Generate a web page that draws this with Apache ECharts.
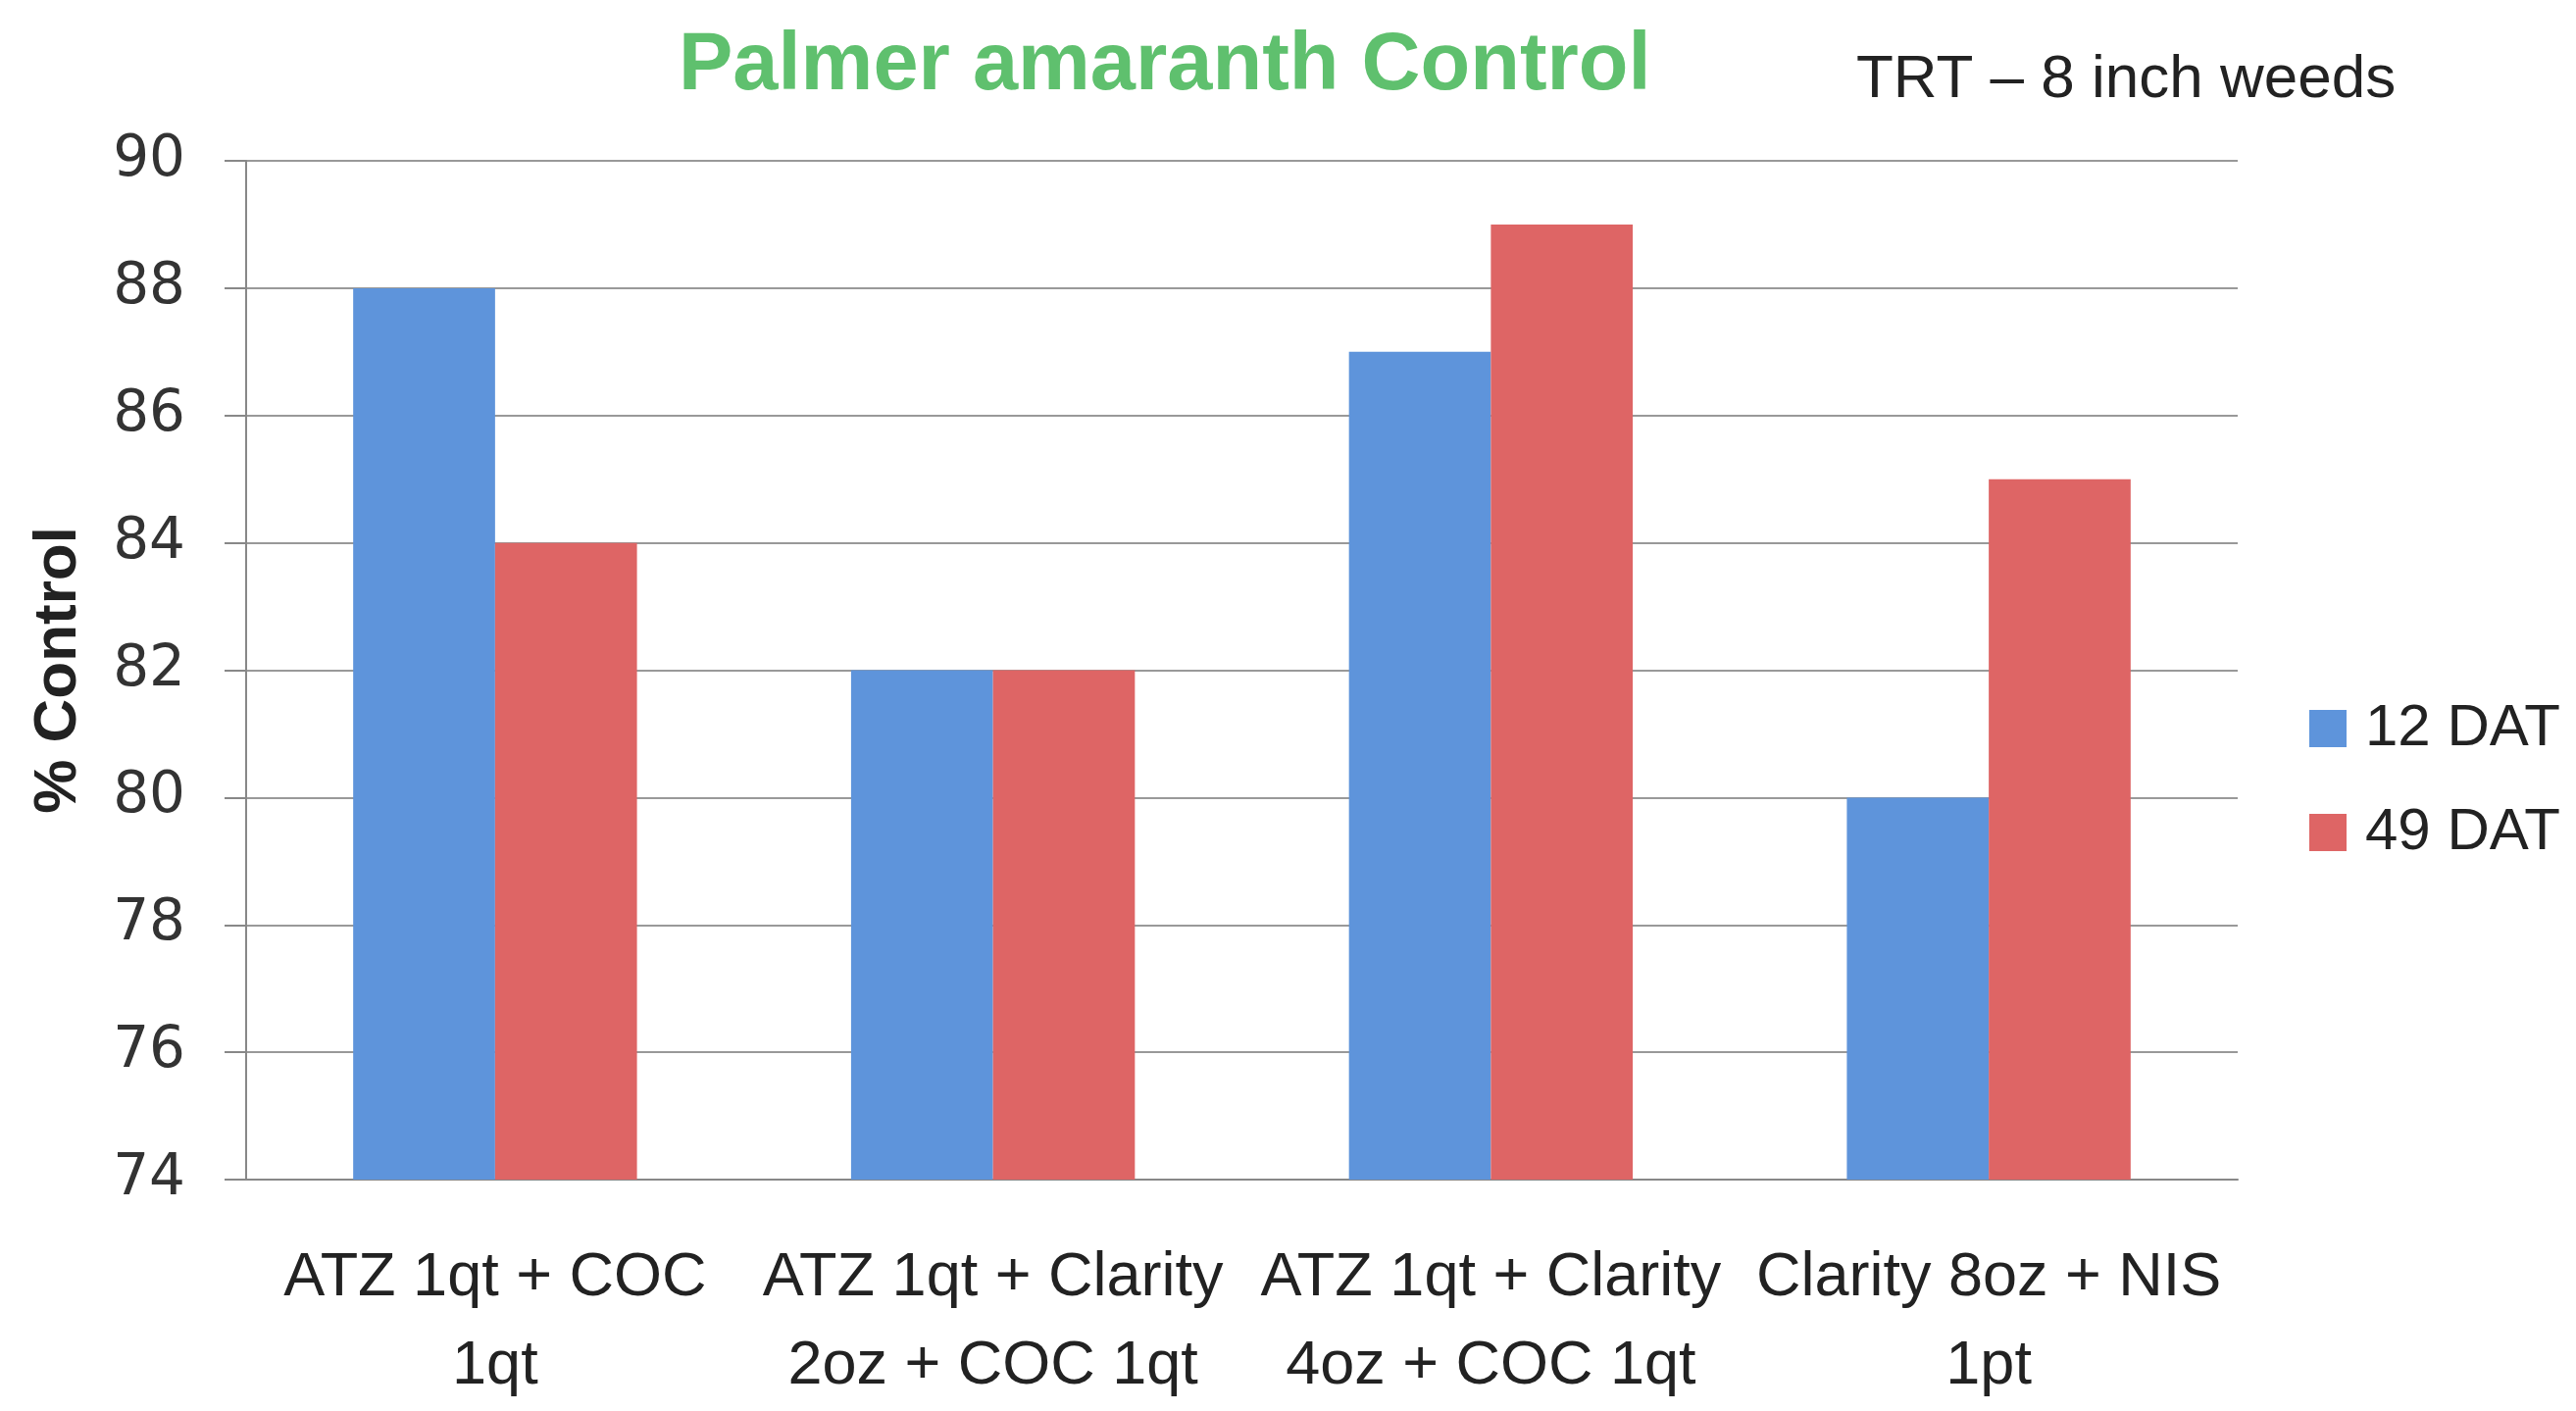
<!DOCTYPE html>
<html>
<head>
<meta charset="utf-8">
<script src="https://cdn.jsdelivr.net/npm/echarts@6/dist/echarts.min.js"></script>
<style>
  html, body { margin: 0; padding: 0; background: #fff; }
  #chart { width: 2627px; height: 1439px; }
</style>
</head>
<body>
<div id="chart"></div>
<script>
const categories = [
  "ATZ 1qt + COC\n1qt",
  "ATZ 1qt + Clarity\n2oz + COC 1qt",
  "ATZ 1qt + Clarity\n4oz + COC 1qt",
  "Clarity 8oz + NIS\n1pt"
];
const dat12 = [88, 82, 87, 80];
const dat49 = [84, 82, 89, 85];
const yTicks = [74, 76, 78, 80, 82, 84, 86, 88, 90];

const sans = '"Liberation Sans", sans-serif';

const chart = echarts.init(document.getElementById("chart"));
chart.setOption({
  backgroundColor: "#fff",
  animation: false,
  title: [
    {
      text: "Palmer amaranth Control",
      left: 687, top: 22,
      textStyle: { color: "#5fc06e", fontSize: 83, fontWeight: "bold", fontFamily: sans }
    },
    {
      text: "TRT \u2013 8 inch weeds",
      left: 1888, top: 46,
      textStyle: { color: "#222", fontSize: 62, fontWeight: "normal", fontFamily: sans }
    }
  ],
  legend: {
    orient: "vertical",
    left: 2350, top: 708,
    itemWidth: 38, itemHeight: 38, itemGap: 46,
    icon: "rect",
    textStyle: { fontSize: 60, color: "#222", fontFamily: sans, padding: [0, 0, 0, 14] },
    data: ["12 DAT", "49 DAT"]
  },
  grid: { left: 251, right: 345, top: 164, bottom: 236 },
  xAxis: {
    type: "category",
    data: categories,
    axisLine: { lineStyle: { color: "#888", width: 2 } },
    axisTick: { length: 26, lineStyle: { color: "#888", width: 2 } },
    axisLabel: {
      fontSize: 63, color: "#222", fontFamily: sans,
      lineHeight: 90, margin: 56, interval: 0
    }
  },
  yAxis: {
    type: "value",
    min: 74, max: 90, interval: 2,
    name: "% Control",
    nameLocation: "middle",
    nameGap: 160,
    nameTextStyle: { fontSize: 62, fontWeight: "bold", color: "#222", fontFamily: sans },
    axisLine: { show: true, lineStyle: { color: "#888", width: 2 } },
    axisTick: { show: true, length: 22, lineStyle: { color: "#888", width: 2 } },
    axisLabel: {
      fontSize: 58, color: "#333", fontFamily: "DejaVu Sans", margin: 62,
      formatter: v => (yTicks.indexOf(v) >= 0 ? String(v) : "")
    },
    splitLine: { lineStyle: { color: "#999", width: 2 } }
  },
  series: [
    {
      name: "12 DAT", type: "bar", data: dat12,
      itemStyle: { color: "#5e94db" },
      barGap: "0%", barCategoryGap: "43%"
    },
    {
      name: "49 DAT", type: "bar", data: dat49,
      itemStyle: { color: "#de6565" }
    }
  ]
});
</script>
</body>
</html>
